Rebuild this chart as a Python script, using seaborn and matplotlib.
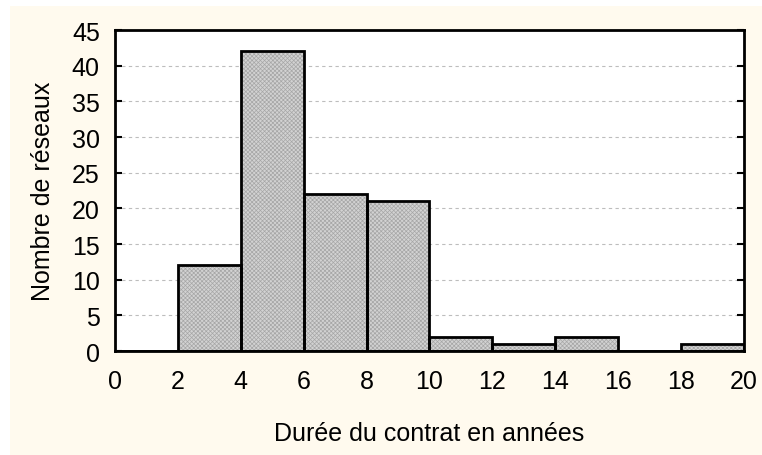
import numpy as np
import matplotlib
matplotlib.use("Agg")
import matplotlib.pyplot as plt
import seaborn as sns
from matplotlib.patches import Rectangle

sns.set_style("white")
plt.rcParams['font.family'] = ['Liberation Sans', 'DejaVu Sans']
plt.rcParams['hatch.linewidth'] = 0.5
plt.rcParams['text.color'] = 'black'
plt.rcParams['axes.labelcolor'] = 'black'
plt.rcParams['xtick.color'] = 'black'
plt.rcParams['ytick.color'] = 'black'

# données : durée du contrat (classes de 2 ans) et nombre de réseaux
bin_edges = [0, 2, 4, 6, 8, 10, 12, 14, 16, 18, 20]
bin_centers = [1, 3, 5, 7, 9, 11, 13, 15, 17, 19]
counts = [0, 12, 42, 22, 21, 2, 1, 2, 0, 1]
y_ticks = [0, 5, 10, 15, 20, 25, 30, 35, 40, 45]
x_ticks = [0, 2, 4, 6, 8, 10, 12, 14, 16, 18, 20]

fig = plt.figure(figsize=(7.62, 4.56), dpi=100)
fig.patch.set_facecolor("white")
fig.patches.append(Rectangle((10 / 762, 0), 1, 1 - 7 / 456, transform=fig.transFigure,
                             facecolor="#fffaee", edgecolor="none", zorder=-10))
ax = fig.add_axes([0.151, 0.228, 0.825, 0.704])
ax.set_facecolor("white")

# remplissage tramé
sns.histplot(x=bin_centers, weights=counts, bins=bin_edges, ax=ax,
             color="#d4d4d4", linewidth=0, alpha=1)
for p in ax.patches:
    p.set_hatch("xxxxxxxx")
    p.set_facecolor("#d2d2d2")
    p.set_edgecolor("#a6a6a6")
    p.set_linewidth(0)
    p.set_zorder(2)

# contours noirs
sns.histplot(x=bin_centers, weights=counts, bins=bin_edges, ax=ax,
             fill=False, element="bars", color="black", linewidth=2)
for p in ax.patches[len(counts):]:
    p.set_edgecolor("black")
    p.set_zorder(3)

ax.set_xlim(0, 20)
ax.set_ylim(0, 45)
ax.set_xticks(x_ticks)
ax.set_yticks(y_ticks)
ax.tick_params(axis="x", length=0, labelsize=18, pad=13)
ax.tick_params(axis="y", direction="in", length=5, width=1.5, labelsize=18,
               left=True, right=True, pad=11)
ax.yaxis.grid(True, linestyle=(0, (3, 3)), color="#bdbdbd", linewidth=0.8)
ax.set_axisbelow(True)
for s in ax.spines.values():
    s.set_linewidth(2)
    s.set_color("black")
    s.set_visible(True)

ax.set_xlabel("Durée du contrat en années", fontsize=18, labelpad=20)
ax.set_ylabel("Nombre de réseaux", fontsize=18, labelpad=12)

fig.savefig("out.png", dpi=100, facecolor=fig.get_facecolor())
